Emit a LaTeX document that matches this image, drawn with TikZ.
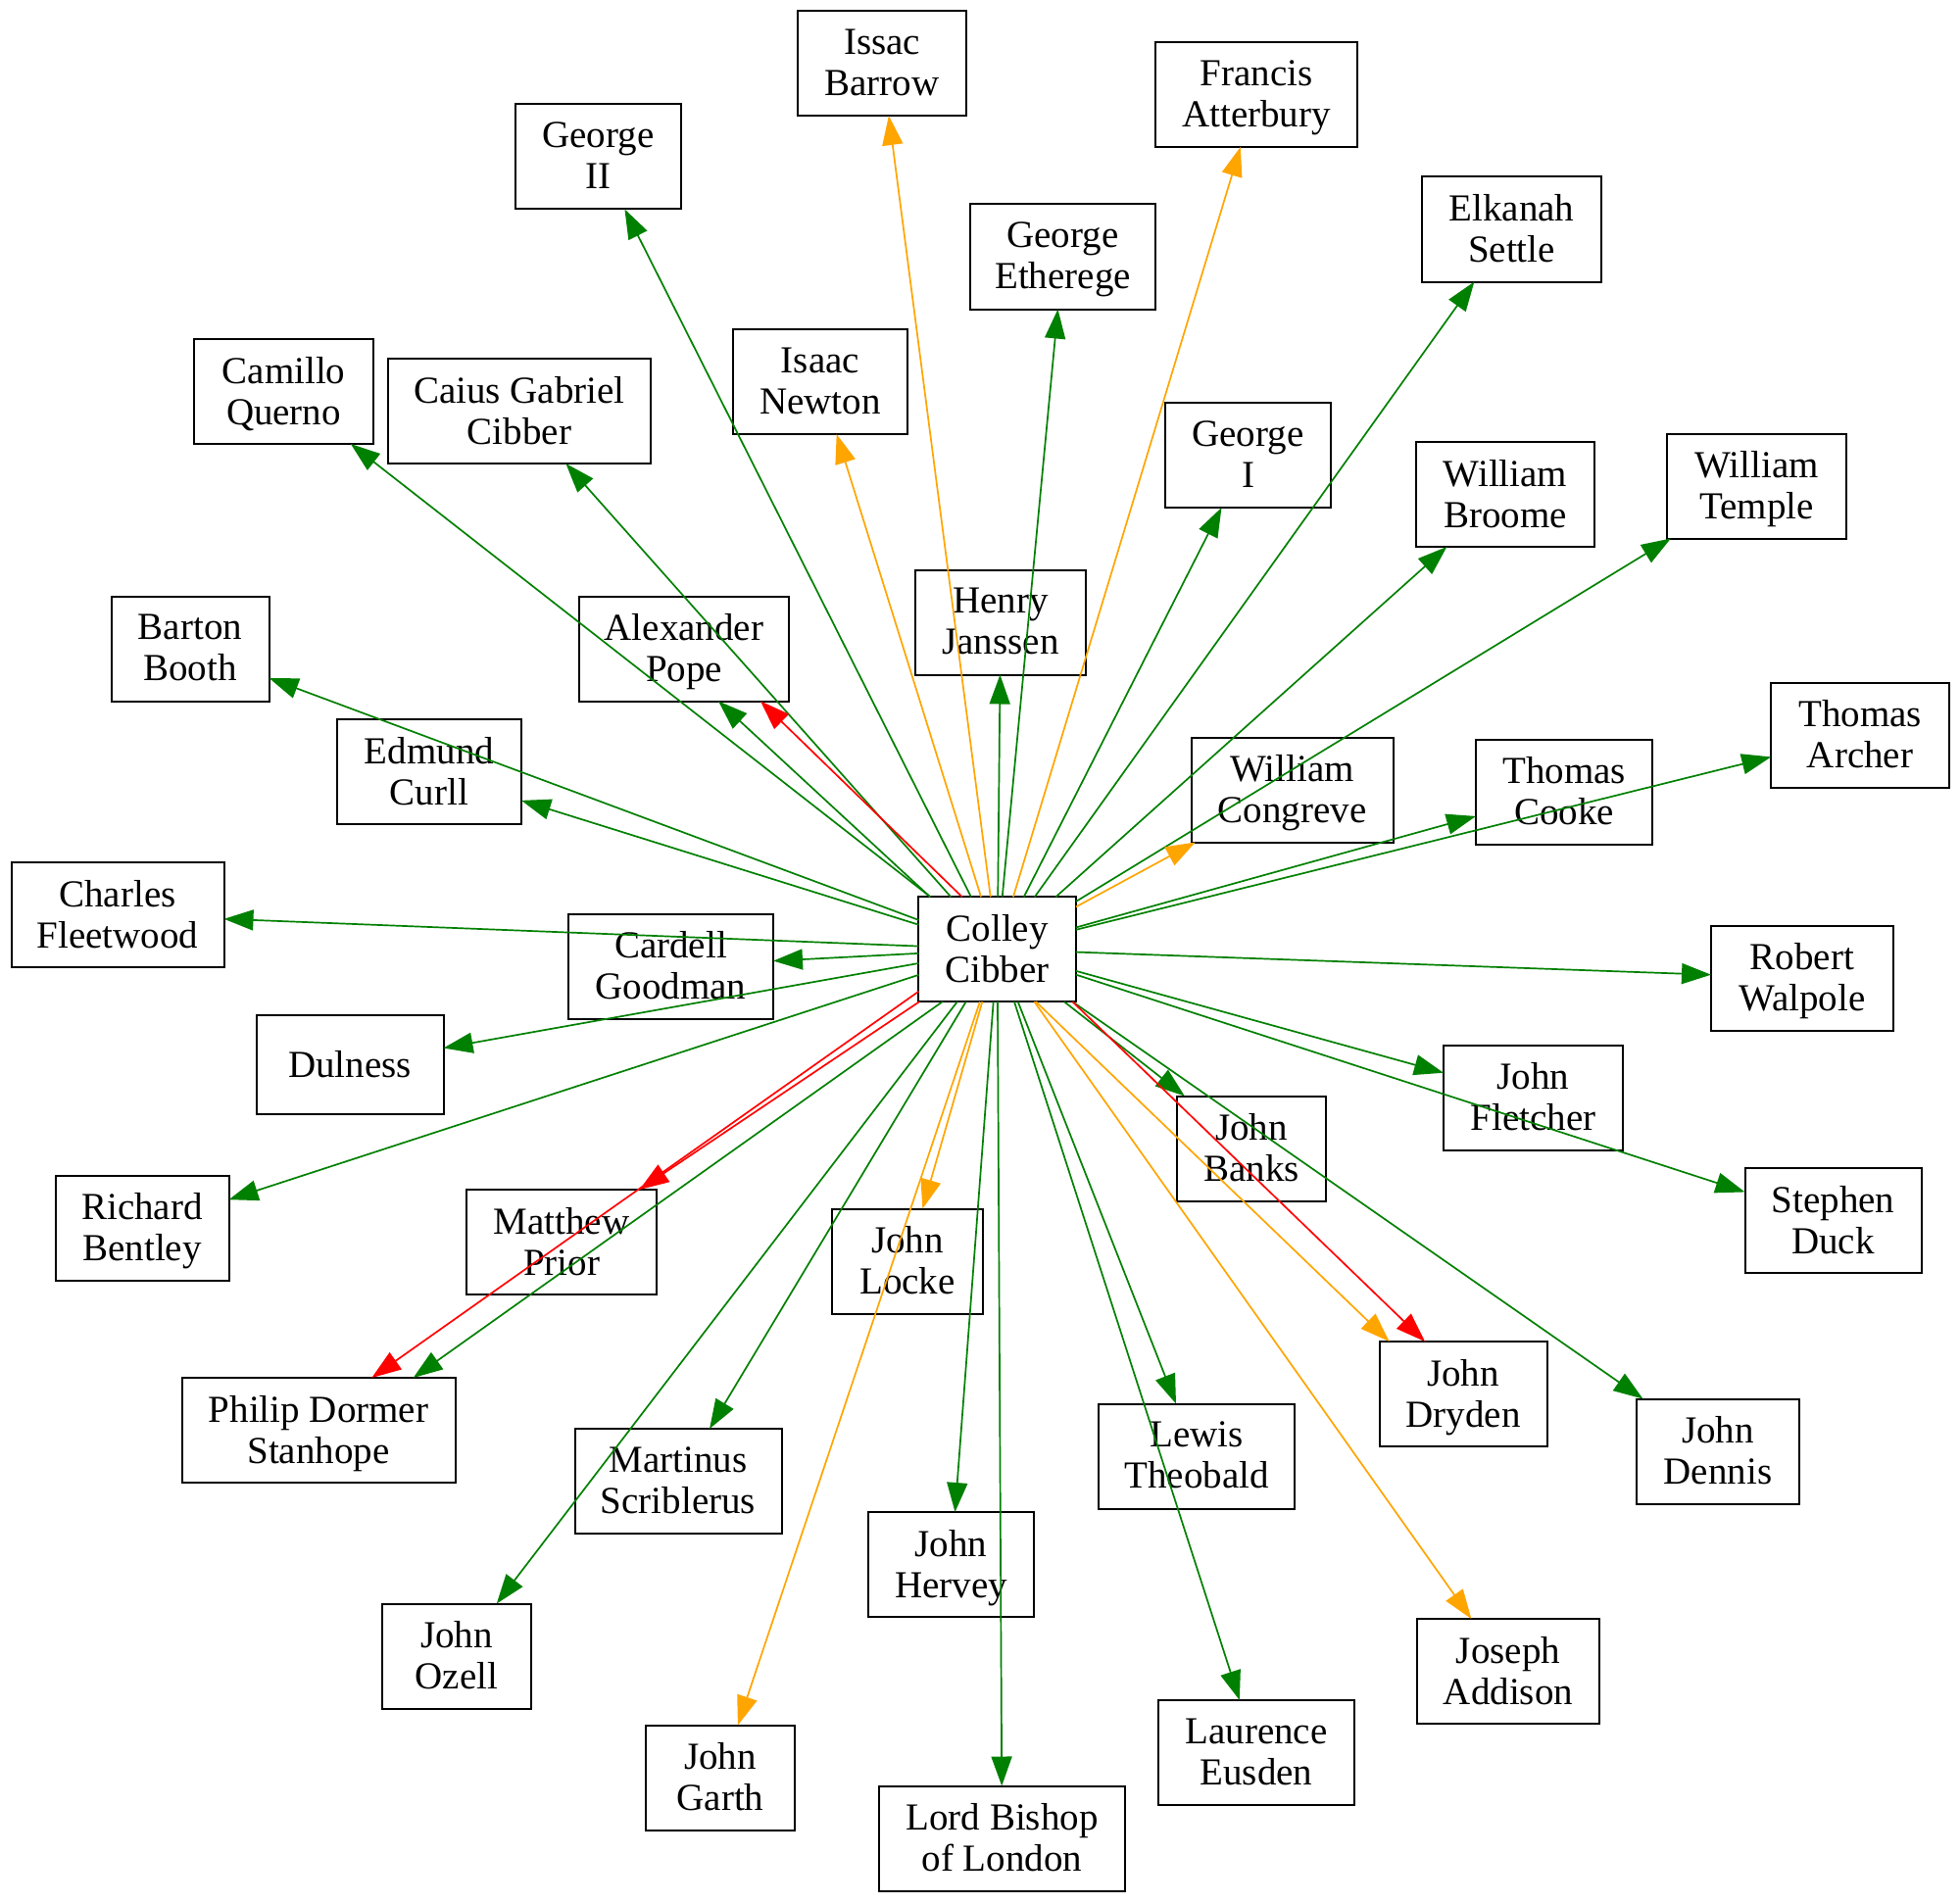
\documentclass[tikz,border=0pt]{standalone}
\usepackage{fontspec}
\setmainfont{Liberation Serif}
\usetikzlibrary{arrows.meta}
\definecolor{eggreen}{RGB}{0,128,0}
\definecolor{egorange}{RGB}{255,165,0}
\definecolor{egred}{RGB}{255,0,0}
\tikzset{
  box/.style={draw, line width=1pt, minimum height=53.5pt, inner sep=0pt, outer sep=0pt,
    align=center, font=\fontsize{19.5}{21}\selectfont, text depth=1pt},
  edgebase/.style={line width=0.85pt, -{Triangle[length=15pt,width=10.5pt]}},
  eg/.style={edgebase, draw=eggreen, fill=eggreen},
  eo/.style={edgebase, draw=egorange, fill=egorange},
  er/.style={edgebase, draw=egred, fill=egred}
}
\begin{document}
\begin{tikzpicture}[x=0.5pt,y=-0.5pt]
\useasboundingbox (0,0) rectangle (2000,1942);
% nodes
\node[box, minimum width=80.25pt] (colley) at (1017.7,968.7) {Colley\\Cibber};
\node[box, minimum width=86pt] (barrow) at (900,64.5) {Issac\\Barrow};
\node[box, minimum width=84.5pt] (george2) at (610.5,160) {George\\II};
\node[box, minimum width=91.5pt] (querno) at (289.5,399.5) {Camillo\\Querno};
\node[box, minimum width=134pt] (caius) at (530,419.5) {Caius Gabriel\\Cibber};
\node[box, minimum width=89pt] (newton) at (837,389.5) {Isaac\\Newton};
\node[box, minimum width=80.5pt] (booth) at (194,662) {Barton\\Booth};
\node[box, minimum width=107pt] (pope) at (698,662) {Alexander\\Pope};
\node[box, minimum width=87pt] (janssen) at (1021,635) {Henry\\Janssen};
\node[box, minimum width=94pt] (curll) at (438,787.5) {Edmund\\Curll};
\node[box, minimum width=108.5pt] (fleetwood) at (120,933.5) {Charles\\Fleetwood};
\node[box, minimum width=104.5pt] (goodman) at (684.5,986) {Cardell\\Goodman};
\node[box, minimum width=95.5pt, minimum height=50.5pt] (dulness) at (357,1086.5) {Dulness};
\node[box, minimum width=88.5pt] (bentley) at (145,1253) {Richard\\Bentley};
\node[box, minimum width=97pt] (prior) at (573,1267.5) {Matthew\\Prior};
\node[box, minimum width=77pt] (locke) at (926,1287) {John\\Locke};
\node[box, minimum width=139.5pt] (stanhope) at (325,1459.5) {Philip Dormer\\Stanhope};
\node[box, minimum width=105.5pt] (scriblerus) at (692,1511.5) {Martinus\\Scriblerus};
\node[box, minimum width=84.5pt] (hervey) at (970.5,1596.5) {John\\Hervey};
\node[box, minimum width=76pt] (ozell) at (466,1690) {John\\Ozell};
\node[box, minimum width=76pt] (garth) at (735,1814) {John\\Garth};
\node[box, minimum width=125.5pt] (bishop) at (1022.5,1876) {Lord Bishop\\of London};
\node[box, minimum width=102.8pt] (atterbury) at (1282,96.4) {Francis\\Atterbury};
\node[box, minimum width=94.5pt] (etherege) at (1084.5,262) {George\\Etherege};
\node[box, minimum width=91.5pt] (settle) at (1542.5,234) {Elkanah\\Settle};
\node[box, minimum width=84.5pt] (george1) at (1273.5,464.5) {George\\I};
\node[box, minimum width=91.25pt] (broome) at (1536,504.5) {William\\Broome};
\node[box, minimum width=91.5pt] (temple) at (1792.5,496) {William\\Temple};
\node[box, minimum width=103pt] (congreve) at (1318.6,806) {William\\Congreve};
\node[box, minimum width=90pt] (cooke) at (1596,808) {Thomas\\Cooke};
\node[box, minimum width=90.75pt] (archer) at (1898,750) {Thomas\\Archer};
\node[box, minimum width=93pt] (walpole) at (1839,998) {Robert\\Walpole};
\node[box, minimum width=91.5pt] (fletcher) at (1564.5,1120) {John\\Fletcher};
\node[box, minimum width=76pt] (banks) at (1277,1172) {John\\Banks};
\node[box, minimum width=90pt] (duck) at (1870.5,1245.5) {Stephen\\Duck};
\node[box, minimum width=85.5pt] (dryden) at (1493,1422.5) {John\\Dryden};
\node[box, minimum width=83pt] (dennis) at (1753,1481) {John\\Dennis};
\node[box, minimum width=100pt] (theobald) at (1221,1486) {Lewis\\Theobald};
\node[box, minimum width=93.3pt] (addison) at (1539,1705.5) {Joseph\\Addison};
\node[box, minimum width=100pt] (eusden) at (1282,1788.5) {Laurence\\Eusden};
% edges: green
\foreach \t in {george2,querno,caius,booth,janssen,curll,fleetwood,goodman,dulness,
  bentley,scriblerus,hervey,ozell,bishop,etherege,settle,george1,broome,temple,
  cooke,archer,walpole,fletcher,banks,duck,dennis,theobald,eusden}
  \draw[eg] (colley) -- (\t);
% edges: orange
\foreach \t in {barrow,newton,locke,garth,atterbury,congreve,addison}
  \draw[eo] (colley) -- (\t);
% edges: red
\draw[er] (colley) -- (prior);
% double edges
\draw[eg] ([xshift=-34.35pt]colley.north) -- ([xshift=17.5pt]pope.south);
\draw[er] ([xshift=-18pt]colley.north) -- ([xshift=39pt]pope.south);
\draw[er] ([yshift=-21.5pt]colley.west) -- ([xshift=27.15pt]stanhope.north);
\draw[eg] ([xshift=-28pt]colley.south) -- ([xshift=48.35pt]stanhope.north);
\draw[eo] ([xshift=19.65pt]colley.south) -- ([xshift=-37.65pt]dryden.north);
\draw[er] ([xshift=38.35pt]colley.south) -- ([xshift=-19.5pt]dryden.north);
\end{tikzpicture}
\end{document}
